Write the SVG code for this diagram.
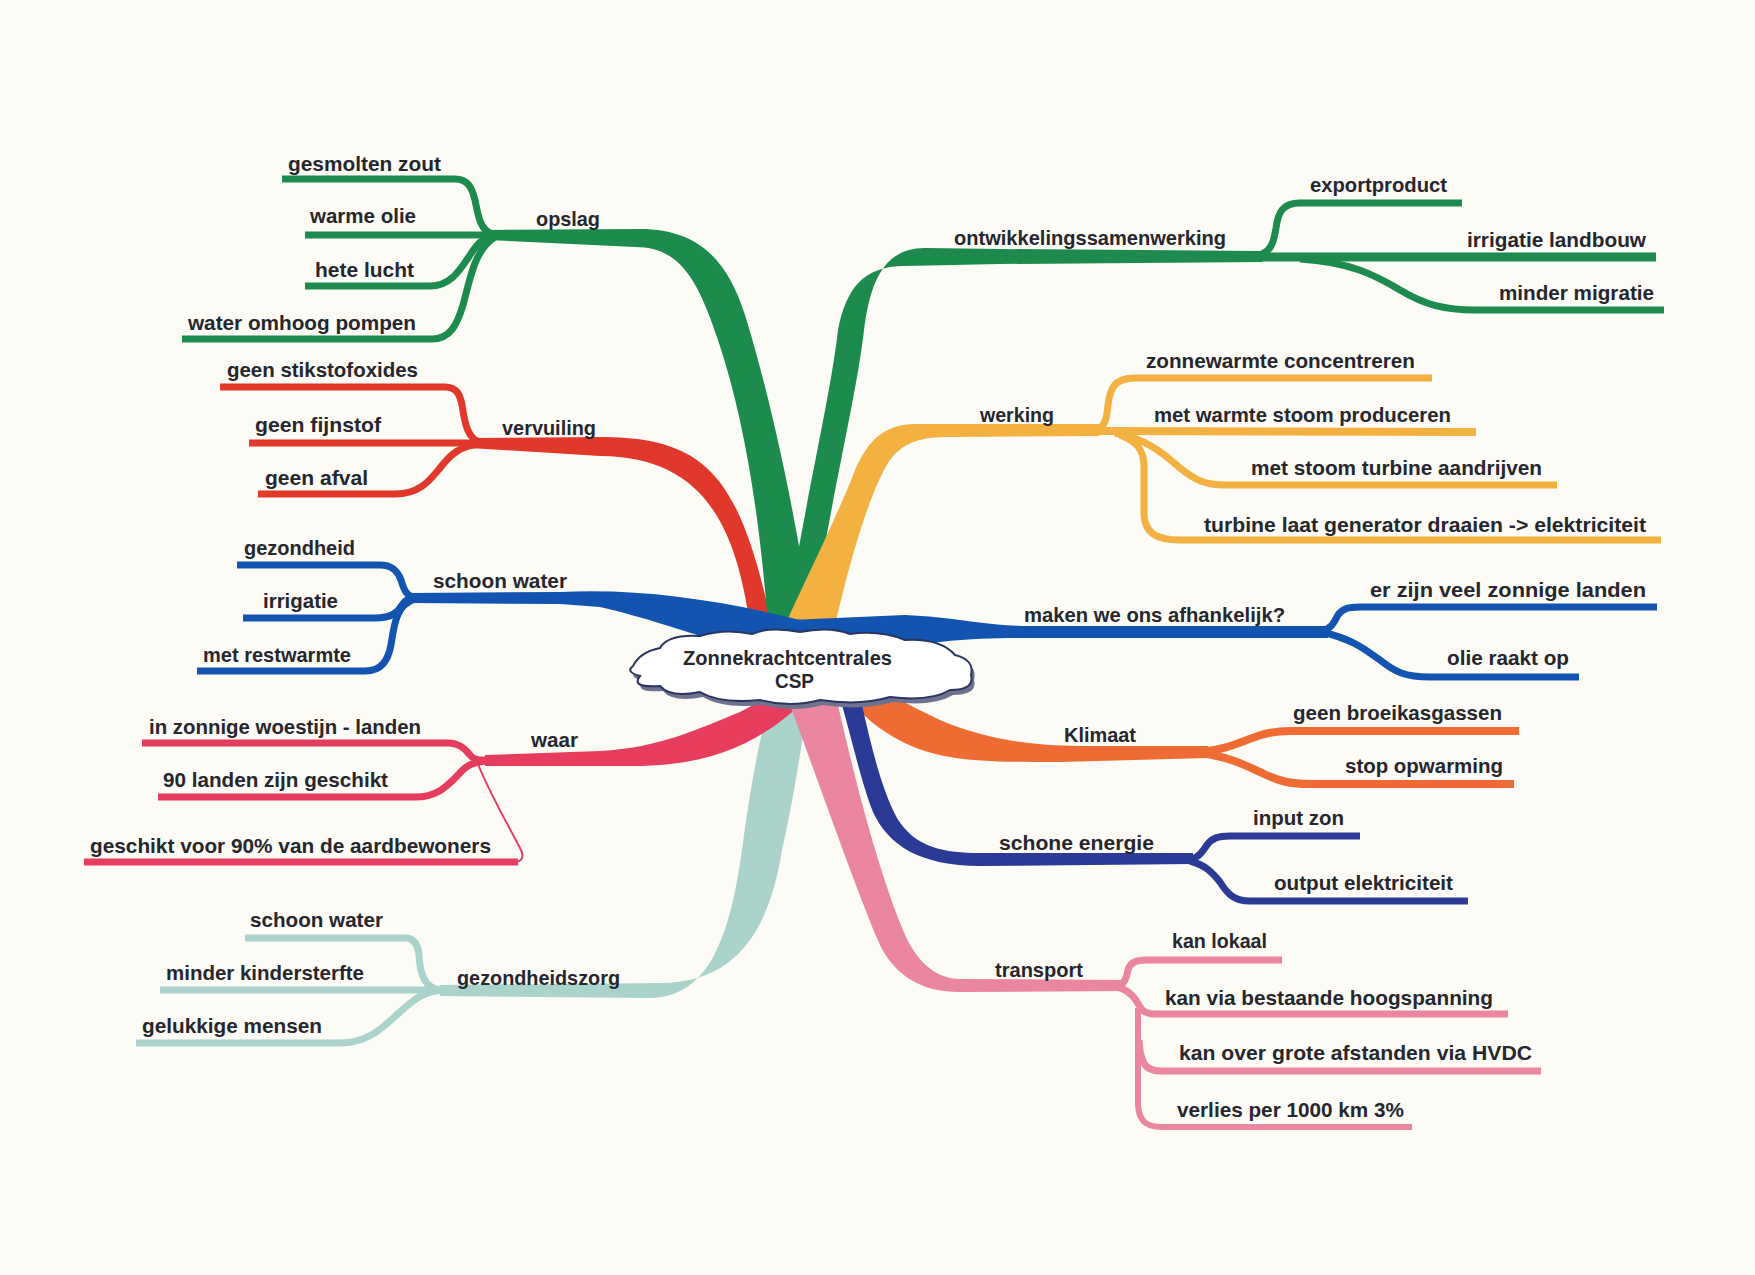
<svg xmlns="http://www.w3.org/2000/svg" width="1755" height="1275" viewBox="0 0 1755 1275">
<style>
.t{font-family:"Liberation Sans",Arial,sans-serif;font-weight:bold;font-size:21px;fill:#26262f}
.s{fill:none;stroke-width:7;stroke-linecap:butt;stroke-linejoin:round}
.green{stroke:#1d8a4e}.fgreen{fill:#1d8a4e}
.red{stroke:#e0392c}.fred{fill:#e0392c}
.blue{stroke:#1254b0}.fblue{fill:#1254b0}
.crim{stroke:#e63d5e}.fcrim{fill:#e63d5e}
.teal{stroke:#a9d3cb}.fteal{fill:#a9d3cb}
.yel{stroke:#f2b140}.fyel{fill:#f2b140}
.ora{stroke:#ee6c33}.fora{fill:#ee6c33}
.navy{stroke:#2b3a94}.fnavy{fill:#2b3a94}
.pink{stroke:#ea86a0}.fpink{fill:#ea86a0}
</style>
<rect width="1755" height="1275" fill="#fcfbf5"/>
<g id="connectors">
  <!-- main branches, top -->
  <path class="fred" d="M470,438 L600,437 C710,437 740,480 772,625 L775,660 L752,660 L750,625 C735,520 700,457 600,456 L470,448 Z"/>
  <path class="fgreen" d="M487,230 L640,229 C700,229 728,262 745,315 C765,380 790,480 812,625 L815,660 L770,660 L768,625 C760,520 745,420 718,340 C698,280 680,247 635,247 L487,240 Z"/>
  <path class="fgreen" d="M1262,251 L1000,249 L925,248 C882,248 870,285 864,330 C856,400 830,500 812,625 L812,660 L786,660 L786,625 C805,500 830,400 838,330 C846,290 862,266 905,266 L1000,264 L1262,262 Z"/>
  <path class="fyel" d="M1099,424 L915,424 C885,424 868,440 855,470 C840,510 810,570 785,625 L785,660 L835,660 L835,625 C850,560 870,490 890,460 C905,440 925,437 950,437 L1099,436 Z"/>
  <path class="fblue" d="M410,593 L560,592 C640,588 720,600 800,620 L800,660 C730,650 660,620 600,607 L560,604 L410,603 Z"/>
  <path class="fblue" d="M1328,626 L1030,626 C985,626 955,617 905,615 L790,620 L790,665 C860,660 900,648 940,642 C975,638 1000,638 1030,638 L1328,638 Z"/>
  <!-- main branches, bottom -->
  <path class="fteal" d="M440,996 L650,998 C715,998 732,920 742,850 C750,790 758,745 770,700 L775,665 L810,665 L808,700 C800,760 790,815 782,850 C770,925 740,983 660,983 L440,985 Z"/>
  <path class="fcrim" d="M485,755 L600,751 C660,748 700,728 740,712 L800,680 L805,700 C770,735 720,765 640,766 L485,766 Z"/>
  <path class="fpink" d="M1124,991 L960,992 C920,992 895,975 880,945 C860,900 825,800 790,705 L790,670 L835,670 L838,705 C855,780 878,870 903,930 C915,960 935,979 960,979 L1124,980 Z"/>
  <path class="fora" d="M1208,746 L1080,746 C1020,746 975,735 940,720 C925,713 912,706 900,700 L880,670 L835,680 L850,700 C870,725 905,750 950,757 C980,762 1010,762 1060,762 L1208,758 Z"/>
  <path class="fnavy" d="M1193,864 L980,866 C920,866 888,845 873,812 C862,785 852,740 842,705 L840,670 L862,670 L862,705 C872,750 882,790 897,818 C915,848 945,853 980,853 L1193,853 Z"/>
  <!-- opslag -->
  <path class="s green" d="M282,179 L455,179 C468,179 472,188 475,200 C478,215 480,230 492,234"/>
  <path class="s green" d="M305,235 L495,235"/>
  <path class="s green" d="M305,286 L430,286 C450,286 460,270 468,258 C476,246 480,238 495,236"/>
  <path class="s green" d="M182,339 L432,339 C450,339 457,325 463,305 C470,280 474,250 495,237"/>
  <!-- ontwikkelingssamenwerking -->
  <path class="s green" d="M1262,254 C1272,250 1274,240 1276,228 C1278,213 1282,203 1300,203 L1462,203"/>
  <path class="s green" style="stroke-width:9" d="M1255,257 L1656,257"/>
  <path class="s green" d="M1300,259 C1350,262 1375,275 1400,290 C1425,305 1445,310 1475,310 L1664,310"/>
  <!-- vervuiling -->
  <path class="s red" d="M220,387 L445,387 C457,387 460,395 462,405 C465,425 468,440 482,443"/>
  <path class="s red" d="M249,443 L482,443"/>
  <path class="s red" d="M258,494 L395,494 C420,494 430,480 440,468 C450,455 460,445 482,444"/>
  <!-- schoon water -->
  <path class="s blue" d="M237,565 L380,565 C393,565 398,572 401,580 C404,590 406,597 418,598"/>
  <path class="s blue" d="M243,618 L375,618 C392,618 398,612 402,605 C405,600 408,598 418,598"/>
  <path class="s blue" d="M197,671 L365,671 C382,671 388,660 391,645 C394,625 396,605 415,599"/>
  <!-- waar -->
  <path class="s crim" d="M142,743 L448,743 C460,743 466,750 470,755 C473,759 476,760 488,760"/>
  <path class="s crim" d="M158,797 L415,797 C438,797 448,785 458,775 C465,767 470,762 488,761"/>
  <path class="s crim" d="M84,862 L518,862"/>
  <path class="s crim" style="stroke-width:2" d="M478,764 C488,790 508,825 520,848 C525,857 522,862 514,862"/>
  <!-- gezondheidszorg -->
  <path class="s teal" d="M245,938 L405,938 C414,938 418,945 419,955 C420,975 425,988 440,990"/>
  <path class="s teal" d="M160,990 L445,990"/>
  <path class="s teal" d="M136,1043 L340,1043 C370,1043 385,1025 400,1012 C415,998 425,991 445,990"/>
  <!-- werking -->
  <path class="s yel" d="M1100,428 C1106,424 1107,415 1108,405 C1110,390 1113,378 1135,378 L1432,378"/>
  <path class="s yel" style="stroke-width:8" d="M1095,431 L1476,432"/>
  <path class="s yel" d="M1115,433 C1150,440 1165,455 1180,468 C1195,480 1205,485 1225,485 L1557,485"/>
  <path class="s yel" d="M1120,435 C1138,442 1143,450 1144,465 L1144,515 C1145,532 1155,540 1180,540 L1661,540"/>
  <!-- maken we ons afhankelijk -->
  <path class="s blue" d="M1322,631 C1333,628 1335,620 1338,615 C1342,609 1348,607 1360,607 L1657,607"/>
  <path class="s blue" d="M1322,632 C1355,640 1365,650 1380,660 C1395,672 1405,677 1430,677 L1579,677"/>
  <!-- Klimaat -->
  <path class="s ora" style="stroke-width:8" d="M1200,752 C1225,750 1240,742 1255,737 C1265,733 1275,731 1290,731 L1519,731"/>
  <path class="s ora" style="stroke-width:8" d="M1200,753 C1230,757 1245,765 1262,773 C1278,781 1290,784 1310,784 L1514,784"/>
  <!-- schone energie -->
  <path class="s navy" d="M1190,860 C1200,857 1203,850 1207,845 C1212,838 1218,836 1230,836 L1360,836"/>
  <path class="s navy" d="M1190,861 C1205,865 1212,872 1220,882 C1228,895 1235,901 1250,901 L1468,901"/>
  <!-- transport -->
  <path class="s pink" d="M1120,986 C1126,982 1127,975 1128,970 C1130,963 1135,960 1147,960 L1282,960"/>
  <path class="s pink" d="M1120,988 C1132,992 1136,1000 1140,1007 C1143,1012 1147,1014 1155,1014 L1508,1014"/>
  <path class="s pink" d="M1139,1040 C1140,1062 1145,1071 1160,1071 L1541,1071"/>
  <path class="s pink" style="stroke-width:6" d="M1138,1008 L1138,1105 C1139,1120 1145,1127 1162,1127 L1412,1127"/>
</g>
<g id="center">
  <path transform="translate(3,5)" fill="#6c7290" d="M633,666 Q640,652 660,648 Q668,634 700,636 Q725,628 752,634 Q770,626 800,632 Q830,626 850,634 Q880,630 905,640 Q940,638 955,655 Q975,660 971,675 Q975,690 950,690 Q930,702 890,697 Q860,706 820,700 Q790,708 760,700 Q720,704 700,692 Q670,698 660,686 Q630,688 640,676 Q625,672 633,666 Z"/>
  <path fill="#ffffff" stroke="#2a3560" stroke-width="2" d="M633,666 Q640,652 660,648 Q668,634 700,636 Q725,628 752,634 Q770,626 800,632 Q830,626 850,634 Q880,630 905,640 Q940,638 955,655 Q975,660 971,675 Q975,690 950,690 Q930,702 890,697 Q860,706 820,700 Q790,708 760,700 Q720,704 700,692 Q670,698 660,686 Q630,688 640,676 Q625,672 633,666 Z"/>
  <text class="t" x="683" y="665" textLength="209" lengthAdjust="spacingAndGlyphs">Zonnekrachtcentrales</text>
  <text class="t" x="775" y="688" textLength="39" lengthAdjust="spacingAndGlyphs">CSP</text>
</g>
<g id="opslag"><text class="t" x="536" y="226" textLength="64" lengthAdjust="spacingAndGlyphs">opslag</text></g>
<g id="gesmolten-zout"><text class="t" x="288" y="171" textLength="153" lengthAdjust="spacingAndGlyphs">gesmolten zout</text></g>
<g id="warme-olie"><text class="t" x="310" y="223" textLength="106" lengthAdjust="spacingAndGlyphs">warme olie</text></g>
<g id="hete-lucht"><text class="t" x="315" y="277" textLength="99" lengthAdjust="spacingAndGlyphs">hete lucht</text></g>
<g id="water-omhoog"><text class="t" x="188" y="330" textLength="228" lengthAdjust="spacingAndGlyphs">water omhoog pompen</text></g>
<g id="vervuiling"><text class="t" x="502" y="435" textLength="94" lengthAdjust="spacingAndGlyphs">vervuiling</text></g>
<g id="stikstof"><text class="t" x="227" y="377" textLength="191" lengthAdjust="spacingAndGlyphs">geen stikstofoxides</text></g>
<g id="fijnstof"><text class="t" x="255" y="432" textLength="126" lengthAdjust="spacingAndGlyphs">geen fijnstof</text></g>
<g id="afval"><text class="t" x="265" y="485" textLength="103" lengthAdjust="spacingAndGlyphs">geen afval</text></g>
<g id="schoon-water"><text class="t" x="433" y="588" textLength="134" lengthAdjust="spacingAndGlyphs">schoon water</text></g>
<g id="gezondheid"><text class="t" x="244" y="555" textLength="111" lengthAdjust="spacingAndGlyphs">gezondheid</text></g>
<g id="irrigatie"><text class="t" x="263" y="608" textLength="75" lengthAdjust="spacingAndGlyphs">irrigatie</text></g>
<g id="restwarmte"><text class="t" x="203" y="662" textLength="148" lengthAdjust="spacingAndGlyphs">met restwarmte</text></g>
<g id="waar"><text class="t" x="531" y="747" textLength="47" lengthAdjust="spacingAndGlyphs">waar</text></g>
<g id="woestijn"><text class="t" x="149" y="734" textLength="272" lengthAdjust="spacingAndGlyphs">in zonnige woestijn - landen</text></g>
<g id="90-landen"><text class="t" x="163" y="787" textLength="225" lengthAdjust="spacingAndGlyphs">90 landen zijn geschikt</text></g>
<g id="aardbewoners"><text class="t" x="90" y="853" textLength="401" lengthAdjust="spacingAndGlyphs">geschikt voor 90% van de aardbewoners</text></g>
<g id="gezondheidszorg"><text class="t" x="457" y="985" textLength="163" lengthAdjust="spacingAndGlyphs">gezondheidszorg</text></g>
<g id="schoon-water-2"><text class="t" x="250" y="927" textLength="133" lengthAdjust="spacingAndGlyphs">schoon water</text></g>
<g id="kindersterfte"><text class="t" x="166" y="980" textLength="198" lengthAdjust="spacingAndGlyphs">minder kindersterfte</text></g>
<g id="gelukkig"><text class="t" x="142" y="1033" textLength="180" lengthAdjust="spacingAndGlyphs">gelukkige mensen</text></g>
<g id="ontwikkeling"><text class="t" x="954" y="245" textLength="272" lengthAdjust="spacingAndGlyphs">ontwikkelingssamenwerking</text></g>
<g id="export"><text class="t" x="1310" y="192" textLength="137" lengthAdjust="spacingAndGlyphs">exportproduct</text></g>
<g id="landbouw"><text class="t" x="1467" y="247" textLength="179" lengthAdjust="spacingAndGlyphs">irrigatie landbouw</text></g>
<g id="migratie"><text class="t" x="1499" y="300" textLength="155" lengthAdjust="spacingAndGlyphs">minder migratie</text></g>
<g id="werking"><text class="t" x="980" y="422" textLength="74" lengthAdjust="spacingAndGlyphs">werking</text></g>
<g id="concentreren"><text class="t" x="1146" y="368" textLength="269" lengthAdjust="spacingAndGlyphs">zonnewarmte concentreren</text></g>
<g id="stoom-produceren"><text class="t" x="1154" y="422" textLength="297" lengthAdjust="spacingAndGlyphs">met warmte stoom produceren</text></g>
<g id="turbine-aandrijven"><text class="t" x="1251" y="475" textLength="291" lengthAdjust="spacingAndGlyphs">met stoom turbine aandrijven</text></g>
<g id="generator"><text class="t" x="1204" y="532" textLength="442" lengthAdjust="spacingAndGlyphs">turbine laat generator draaien -&gt; elektriciteit</text></g>
<g id="afhankelijk"><text class="t" x="1024" y="622" textLength="261" lengthAdjust="spacingAndGlyphs">maken we ons afhankelijk?</text></g>
<g id="zonnige-landen"><text class="t" x="1370" y="597" textLength="276" lengthAdjust="spacingAndGlyphs">er zijn veel zonnige landen</text></g>
<g id="olie"><text class="t" x="1447" y="665" textLength="122" lengthAdjust="spacingAndGlyphs">olie raakt op</text></g>
<g id="klimaat"><text class="t" x="1064" y="742" textLength="72" lengthAdjust="spacingAndGlyphs">Klimaat</text></g>
<g id="broeikas"><text class="t" x="1293" y="720" textLength="209" lengthAdjust="spacingAndGlyphs">geen broeikasgassen</text></g>
<g id="opwarming"><text class="t" x="1345" y="773" textLength="158" lengthAdjust="spacingAndGlyphs">stop opwarming</text></g>
<g id="schone-energie"><text class="t" x="999" y="850" textLength="155" lengthAdjust="spacingAndGlyphs">schone energie</text></g>
<g id="input"><text class="t" x="1253" y="825" textLength="91" lengthAdjust="spacingAndGlyphs">input zon</text></g>
<g id="output"><text class="t" x="1274" y="890" textLength="179" lengthAdjust="spacingAndGlyphs">output elektriciteit</text></g>
<g id="transport"><text class="t" x="995" y="977" textLength="88" lengthAdjust="spacingAndGlyphs">transport</text></g>
<g id="lokaal"><text class="t" x="1172" y="948" textLength="95" lengthAdjust="spacingAndGlyphs">kan lokaal</text></g>
<g id="hoogspanning"><text class="t" x="1165" y="1005" textLength="328" lengthAdjust="spacingAndGlyphs">kan via bestaande hoogspanning</text></g>
<g id="hvdc"><text class="t" x="1179" y="1060" textLength="353" lengthAdjust="spacingAndGlyphs">kan over grote afstanden via HVDC</text></g>
<g id="verlies"><text class="t" x="1177" y="1117" textLength="227" lengthAdjust="spacingAndGlyphs">verlies per 1000 km 3%</text></g>
</svg>
